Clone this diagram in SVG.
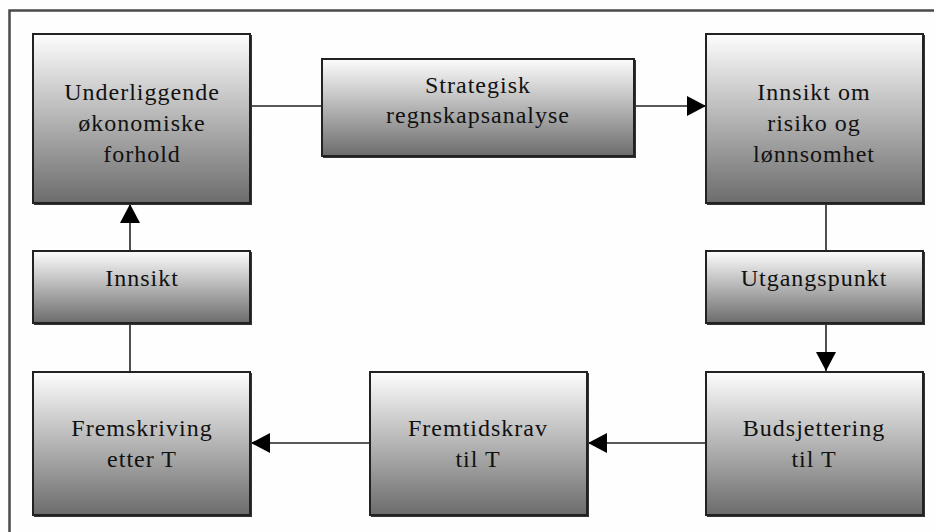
<svg xmlns="http://www.w3.org/2000/svg" width="934" height="532" viewBox="0 0 934 532">
  <defs>
    <linearGradient id="boxFill" x1="0" y1="0" x2="0" y2="1">
      <stop offset="0" stop-color="#fdfdfd"/>
      <stop offset="1" stop-color="#6c6c6c"/>
    </linearGradient>
    <marker id="arrow" markerUnits="userSpaceOnUse" markerWidth="19" markerHeight="20" refX="19" refY="10" orient="auto">
      <path d="M0,0 L19,10 L0,20 Z" fill="#000"/>
    </marker>
    <style>
      .box { fill: url(#boxFill); stroke: #222; stroke-width: 2; }
      .shadow { fill: none; stroke: #333; stroke-width: 2; }
      .lbl { font-family: "Liberation Serif", "Times New Roman", serif; font-size: 24px; letter-spacing: 1px; fill: #111; text-anchor: middle; }
      .wire { stroke: #222; stroke-width: 1.6; fill: none; }
      .frame { stroke: #4a4a4a; stroke-width: 2.5; fill: none; }
    </style>
  </defs>

  <rect x="0" y="0" width="934" height="532" fill="#fefefe"/>
  <path class="frame" d="M9.5,540 V10.5 H940"/>

  <g id="connectors">
    <line class="wire" x1="251" y1="106" x2="322" y2="106"/>
    <line class="wire" x1="634" y1="106" x2="706" y2="106" marker-end="url(#arrow)"/>
    <line class="wire" x1="826" y1="203" x2="826" y2="251"/>
    <line class="wire" x1="826" y1="323" x2="826" y2="371" marker-end="url(#arrow)"/>
    <line class="wire" x1="706" y1="443" x2="588" y2="443" marker-end="url(#arrow)"/>
    <line class="wire" x1="370" y1="443" x2="251" y2="443" marker-end="url(#arrow)"/>
    <line class="wire" x1="130" y1="372" x2="130" y2="323"/>
    <line class="wire" x1="130" y1="251" x2="130" y2="204" marker-end="url(#arrow)"/>
  </g>

  <g id="underliggende">
    <path class="shadow" d="M251,35 V204 H34"/>
    <rect class="box" x="33" y="34" width="217" height="169"/>
    <text class="lbl" x="142" y="100">Underliggende</text>
    <text class="lbl" x="142" y="131">økonomiske</text>
    <text class="lbl" x="142" y="162">forhold</text>
  </g>

  <g id="strategisk">
    <path class="shadow" d="M635,60 V157 H323"/>
    <rect class="box" x="322" y="59" width="312" height="97"/>
    <text class="lbl" x="478" y="93">Strategisk</text>
    <text class="lbl" x="478" y="123">regnskapsanalyse</text>
  </g>

  <g id="innsikt-om">
    <path class="shadow" d="M924,35 V204 H707"/>
    <rect class="box" x="706" y="34" width="217" height="169"/>
    <text class="lbl" x="814" y="100">Innsikt om</text>
    <text class="lbl" x="814" y="131">risiko og</text>
    <text class="lbl" x="814" y="162">lønnsomhet</text>
  </g>

  <g id="utgangspunkt">
    <path class="shadow" d="M924,252 V324 H707"/>
    <rect class="box" x="706" y="251" width="217" height="72"/>
    <text class="lbl" x="814" y="286">Utgangspunkt</text>
  </g>

  <g id="budsjettering">
    <path class="shadow" d="M924,373 V516 H707"/>
    <rect class="box" x="706" y="372" width="217" height="143"/>
    <text class="lbl" x="814" y="436">Budsjettering</text>
    <text class="lbl" x="814" y="467">til T</text>
  </g>

  <g id="fremtidskrav">
    <path class="shadow" d="M588,373 V516 H371"/>
    <rect class="box" x="370" y="372" width="217" height="143"/>
    <text class="lbl" x="478" y="436">Fremtidskrav</text>
    <text class="lbl" x="478" y="467">til T</text>
  </g>

  <g id="fremskriving">
    <path class="shadow" d="M251,373 V516 H34"/>
    <rect class="box" x="33" y="372" width="217" height="143"/>
    <text class="lbl" x="142" y="436">Fremskriving</text>
    <text class="lbl" x="142" y="467">etter T</text>
  </g>

  <g id="innsikt">
    <path class="shadow" d="M251,252 V324 H34"/>
    <rect class="box" x="33" y="251" width="217" height="72"/>
    <text class="lbl" x="142" y="286">Innsikt</text>
  </g>
</svg>
